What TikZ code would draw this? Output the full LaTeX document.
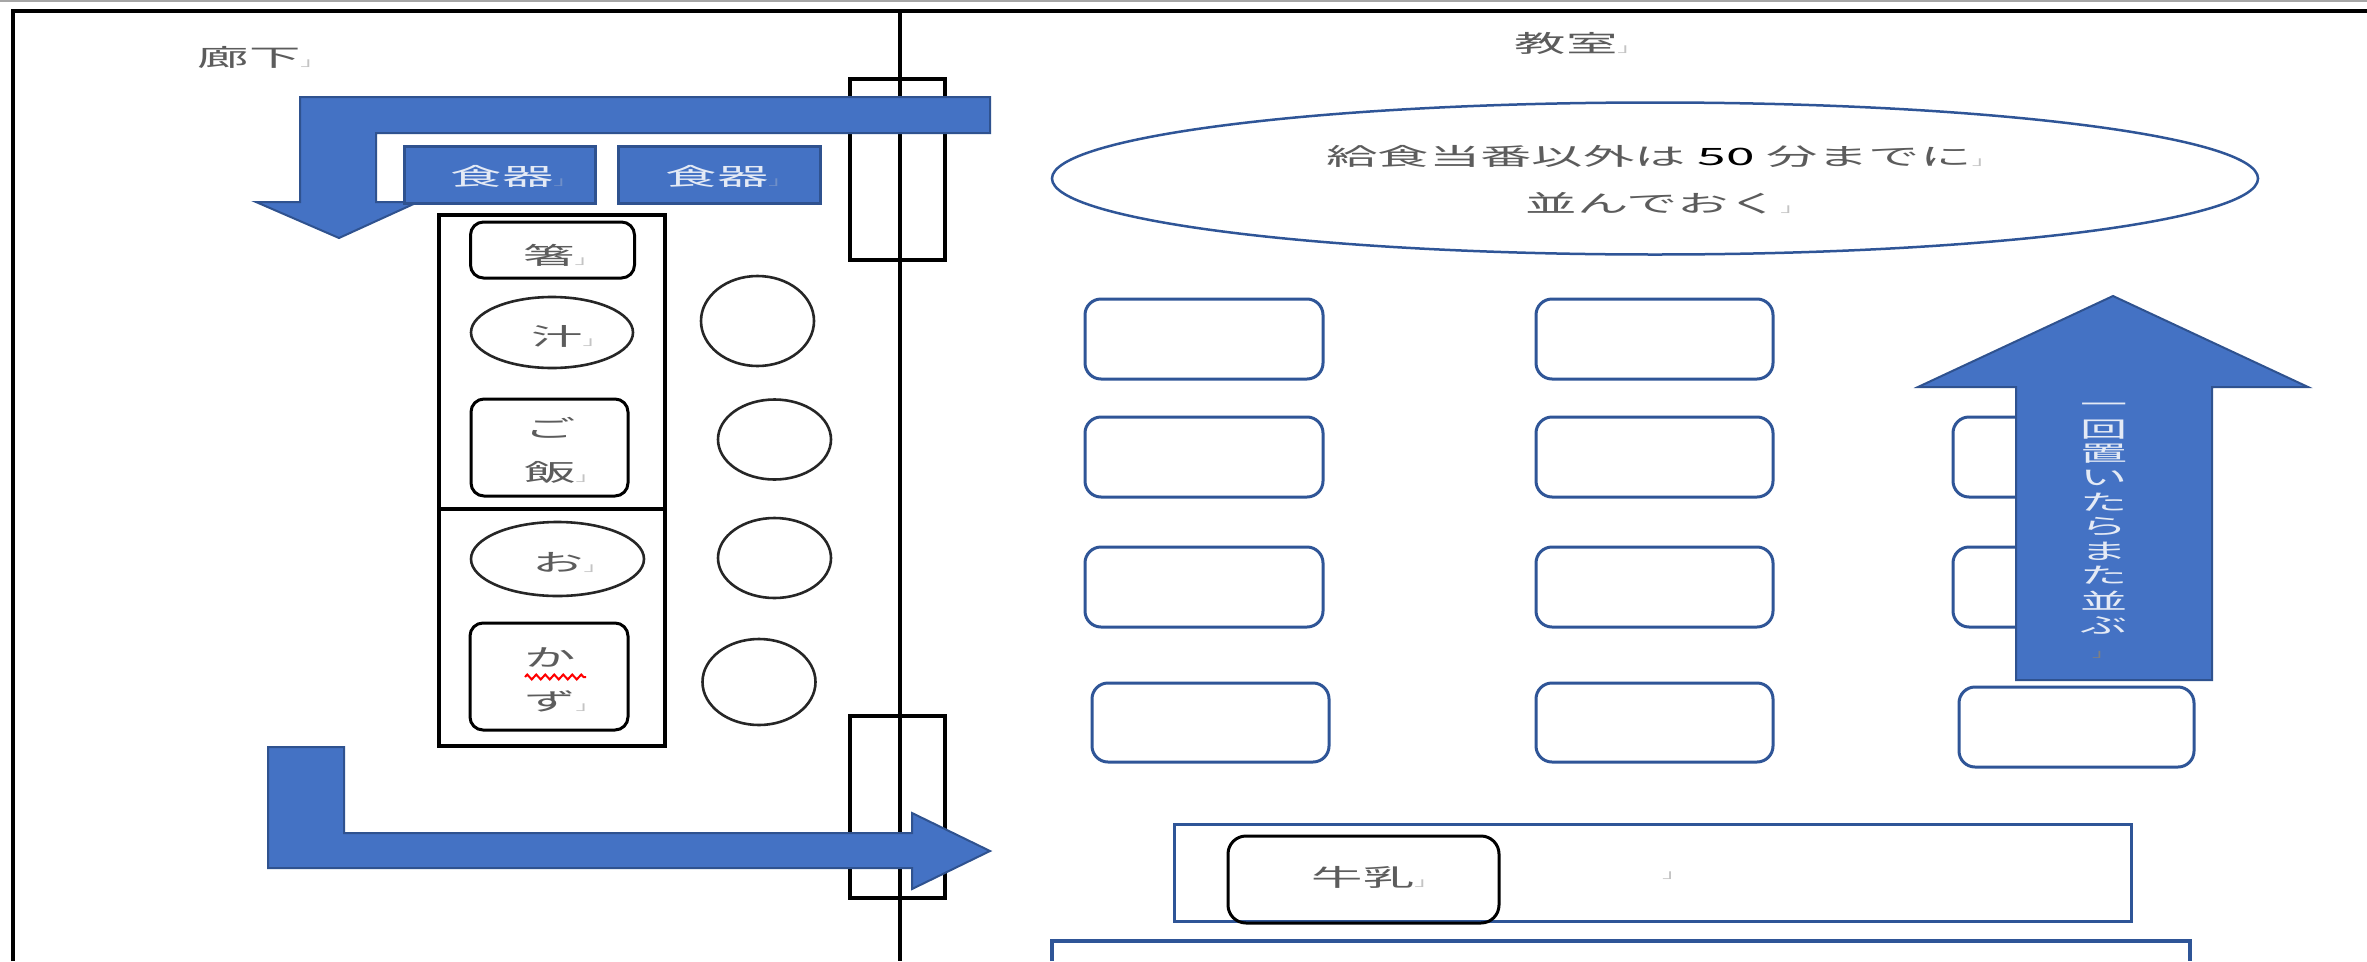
\documentclass[tikz,border=0pt]{standalone}
\usepackage{fontspec}
\setmainfont{Noto Sans CJK JP}
\usetikzlibrary{shapes.geometric,decorations.pathmorphing}
\definecolor{arrowblue}{HTML}{4472C4}
\definecolor{arrowedge}{HTML}{2F528F}
\definecolor{deskblue}{HTML}{2F5597}
\definecolor{txtgray}{HTML}{5C5C5C}
\definecolor{markgray}{HTML}{C4C4C4}
\definecolor{markblue}{HTML}{6F8FC8}
\definecolor{lightwhite}{HTML}{E4EAF5}
\newcommand{\sxt}[1]{\scalebox{2.15}[1]{#1}}
\newcommand{\pmk}[1][markgray]{\rlap{\textcolor{#1}{\scalebox{0.5}{」}}}}
\begin{document}
\begin{tikzpicture}[x=1bp,y=-1bp,
  jt/.style={text=txtgray, font=\fontsize{24}{28}\selectfont, inner sep=0pt},
  wt/.style={text=lightwhite, font=\fontsize{24}{28}\selectfont, inner sep=0pt},
  frameline/.style={draw=black, line width=3.5bp},
  doorbox/.style={draw=black, line width=3.5bp, rectangle, inner sep=0pt},
  itembox/.style={draw=black, line width=3bp, rectangle, rounded corners=13bp, inner sep=0pt},
  itemell/.style={draw=black!85, line width=2.6bp, ellipse, inner sep=0pt},
  dishbox/.style={fill=arrowblue, draw=arrowedge, line width=3bp, rectangle, inner sep=0pt},
  desk/.style={draw=deskblue, line width=3bp, rectangle, rounded corners=16bp, inner sep=0pt},
  bigarrow/.style={fill=arrowblue, draw=arrowedge, line width=2bp, line join=miter},
  bluebox/.style={draw=deskblue, line width=3bp, rectangle, inner sep=0pt}
]
\fill[white] (0,0) rectangle (2367,961);
\useasboundingbox (0,0) rectangle (2367,961);

% page edge and frame
\draw[black!35, line width=1.5bp] (0,0.8) -- (2367,0.8);
\coordinate (ftl) at (13,11);
\coordinate (ftr) at (2367,11);
\coordinate (fbl) at (13,961);
\coordinate (dtop) at (900,11);
\coordinate (dbot) at (900,961);
\draw[frameline] (fbl) -- (ftl) -- (ftr);
\draw[frameline] (dtop) -- (dbot);

% doors
\node[doorbox, minimum width=95bp, minimum height=181bp] (door1) at (897.5,169.5) {};
\node[doorbox, minimum width=95bp, minimum height=182bp] (door2) at (897.5,807) {};

% labels
\node[jt] (rouka) at (249,57) {\sxt{廊下\pmk}};
\node[jt] (kyoshitsu) at (1566,43) {\sxt{教室\pmk}};

% serving table
\node[doorbox, minimum width=226bp, minimum height=531bp] (table) at (552,480.5) {};
\coordinate (tdiv) at (0,509);
\draw[black, line width=3.5bp] (table.west |- tdiv) -- (table.east |- tdiv);

\node[itembox, minimum width=164bp, minimum height=56bp] (hashi) at (552.5,250) {};
\node[jt] (hashit) at (549,255) {\sxt{箸\pmk}};
\node[itemell, minimum width=162bp, minimum height=71bp] (shiru) at (552,332.5) {};
\node[jt] (shirut) at (557,336) {\sxt{汁\pmk}};
\node[itembox, minimum width=157bp, minimum height=97bp] (gohan) at (549.5,447.5) {};
\node[jt, font=\fontsize{24}{44}\selectfont] (gohant) at (550,451) {\sxt{\begin{tabular}{@{}c@{}}ご\\飯\pmk\end{tabular}}};
\node[itemell, minimum width=173bp, minimum height=74bp] (okazu1) at (557.5,559) {};
\node[jt] (okazu1t) at (558,562) {\sxt{お\pmk}};
\node[itembox, minimum width=158bp, minimum height=107bp] (okazu2) at (549,676.5) {};
\node[jt, font=\fontsize{24}{44}\selectfont] (okazu2t) at (550,680) {\sxt{\begin{tabular}{@{}c@{}}か\\ず\pmk\end{tabular}}};
\coordinate (wavea) at (525,677);
\coordinate (waveb) at (586,677);
\draw[red, line width=2bp, decorate, decoration={zigzag, segment length=9bp, amplitude=2.5bp}] (wavea) -- (waveb);

% circles
\node[itemell, minimum width=113bp, minimum height=90bp] (c1) at (757.5,321) {};
\node[itemell, minimum width=113bp, minimum height=80bp] (c2) at (774.5,439.5) {};
\node[itemell, minimum width=113bp, minimum height=80bp] (c3) at (774.5,558) {};
\node[itemell, minimum width=113bp, minimum height=86bp] (c4) at (759,682) {};

% desks
\node[desk, minimum width=238bp, minimum height=80bp] (d11) at (1204,339) {};
\node[desk, minimum width=237bp, minimum height=80bp] (d12) at (1654.5,339) {};
\node[desk, minimum width=238bp, minimum height=80bp] (d21) at (1204,457) {};
\node[desk, minimum width=237bp, minimum height=80bp] (d22) at (1654.5,457) {};
\node[desk, minimum width=237bp, minimum height=80bp] (d23) at (2071.5,457) {};
\node[desk, minimum width=238bp, minimum height=80bp] (d31) at (1204,587) {};
\node[desk, minimum width=237bp, minimum height=80bp] (d32) at (1654.5,587) {};
\node[desk, minimum width=237bp, minimum height=80bp] (d33) at (2071.5,587) {};
\node[desk, minimum width=237bp, minimum height=79bp] (d41) at (1210.5,722.5) {};
\node[desk, minimum width=237bp, minimum height=79bp] (d42) at (1654.5,722.5) {};
\node[desk, minimum width=235bp, minimum height=80bp] (d43) at (2076.5,727) {};

% notice ellipse
\node[draw=deskblue, line width=2.5bp, ellipse, inner sep=0pt, minimum width=1206bp, minimum height=152bp] (notice) at (1655,178.5) {};
\node[jt] (notice1) at (1649,156) {\sxt{給食当番以外は \textcolor{black}{50} 分までに\pmk}};
\node[jt] (notice2) at (1653,203) {\sxt{並んでおく\pmk}};

% milk table
\node[bluebox, minimum width=957bp, minimum height=97bp] (milktable) at (1652.5,872.5) {};
\node[itembox, rounded corners=18bp, minimum width=271bp, minimum height=87bp] (milk) at (1363.5,879.5) {};
\node[jt] (milkt) at (1363,877) {\sxt{牛乳\pmk}};
\node[jt] (milkmark) at (1662,876) {\sxt{\pmk}};

% bottom blue table (cut off)
\coordinate (bt1) at (1052,961);
\coordinate (bt2) at (1052,941);
\coordinate (bt3) at (2190,941);
\coordinate (bt4) at (2190,961);
\draw[draw=deskblue, line width=3.5bp] (bt1) -- (bt2) -- (bt3) -- (bt4);

% arrows
\draw[bigarrow] (990,97) -- (300,97) -- (300,202) -- (256,202) -- (339,238) -- (418,202) -- (376,202) -- (376,133) -- (990,133) -- cycle;
\draw[bigarrow] (268,747) -- (344,747) -- (344,833) -- (912,833) -- (912,813) -- (990,851) -- (912,889) -- (912,868) -- (268,868) -- cycle;
\draw[bigarrow] (2016,680) -- (2016,387) -- (1918,387) -- (2113,296) -- (2308,387) -- (2212,387) -- (2212,680) -- cycle;

% dishes
\node[dishbox, minimum width=191bp, minimum height=57bp] (dish1) at (500,174.5) {};
\node[wt] (dish1t) at (502,176) {\sxt{食器\pmk[markblue]}};
\node[dishbox, minimum width=202bp, minimum height=57bp] (dish2) at (719.5,174.5) {};
\node[wt] (dish2t) at (717,176) {\sxt{食器\pmk[markblue]}};

% vertical text in up arrow
\node[wt, font=\fontsize{22}{24}\selectfont] (uptext) at (2104,530) {\sxt{\begin{tabular}{@{}c@{}}一\\回\\置\\い\\た\\ら\\ま\\た\\並\\ぶ\\\makebox[0pt]{\textcolor{black!50}{\scalebox{0.5}{」}}}\end{tabular}}};
\end{tikzpicture}
\end{document}
